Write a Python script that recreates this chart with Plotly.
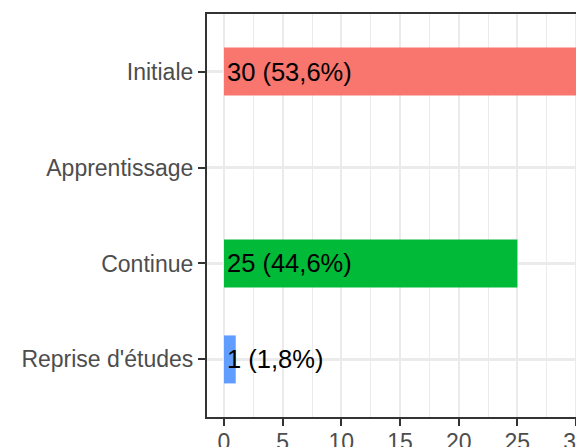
import plotly.graph_objects as go

categories = ["Initiale", "Apprentissage", "Continue", "Reprise d'études"]
counts = [30, 0, 25, 1]
bar_colors = ["#F8766D", "#7CAE00", "#00BA38", "#619CFF"]
x_ticks = [0, 5, 10, 15, 20, 25, 30]
x_minor = [2.5, 7.5, 12.5, 17.5, 22.5, 27.5]

total = sum(counts)
labels = [
    f"{c} ({100 * c / total:.1f}%)".replace(".", ",") if c > 0 else ""
    for c in counts
]

shown_cats = [cat for cat, c in zip(categories, counts) if c > 0]
shown_vals = [c for c in counts if c > 0]
shown_cols = [col for col, c in zip(bar_colors, counts) if c > 0]
shown_labels = [l for l, c in zip(labels, counts) if c > 0]

font_family = "Liberation Sans, Arial, sans-serif"

fig = go.Figure()
fig.add_trace(go.Bar(
    x=shown_vals, y=shown_cats, orientation="h", width=0.5,
    marker=dict(color=shown_cols, line=dict(width=0)),
    hoverinfo="skip", showlegend=False,
))
for cat, lab in zip(shown_cats, shown_labels):
    fig.add_annotation(
        x=0, y=cat, xref="x", yref="y", text=lab, showarrow=False,
        xanchor="left", yanchor="middle", xshift=1,
        font=dict(size=25.5, color="#000000", family=font_family),
    )

fig.update_layout(
    width=584, height=447,
    margin=dict(l=199, r=0, t=6, b=38, autoexpand=False),
    paper_bgcolor="white", plot_bgcolor="white",
    font=dict(family=font_family, size=23, color="#4D4D4D"),
)
fig.update_xaxes(
    range=[-1.449, 31.36], tickvals=x_ticks, ticktext=[str(v) for v in x_ticks],
    showgrid=True, gridcolor="#EBEBEB", gridwidth=2,
    minor=dict(tickvals=x_minor, showgrid=True,
               gridcolor="#EBEBEB", gridwidth=1, ticks=""),
    showline=True, linecolor="#333333", linewidth=2.2, mirror=True,
    ticks="outside", ticklen=7, tickwidth=2, tickcolor="#333333",
    tickfont=dict(size=23, color="#4D4D4D"), ticklabelstandoff=-4,
    zeroline=False, automargin=False, ticklabeloverflow="allow",
    fixedrange=True,
)
fig.update_yaxes(
    type="category", categoryorder="array",
    categoryarray=list(reversed(categories)),
    range=[-0.6, 3.6],
    showgrid=True, gridcolor="#EBEBEB", gridwidth=2.5,
    showline=True, linecolor="#333333", linewidth=2.2, mirror=False,
    ticks="outside", ticklen=7, tickwidth=2, tickcolor="#333333",
    tickfont=dict(size=23, color="#4D4D4D"), ticklabelstandoff=0,
    zeroline=False, automargin=False, fixedrange=True,
)

fig.write_html("out.html")
